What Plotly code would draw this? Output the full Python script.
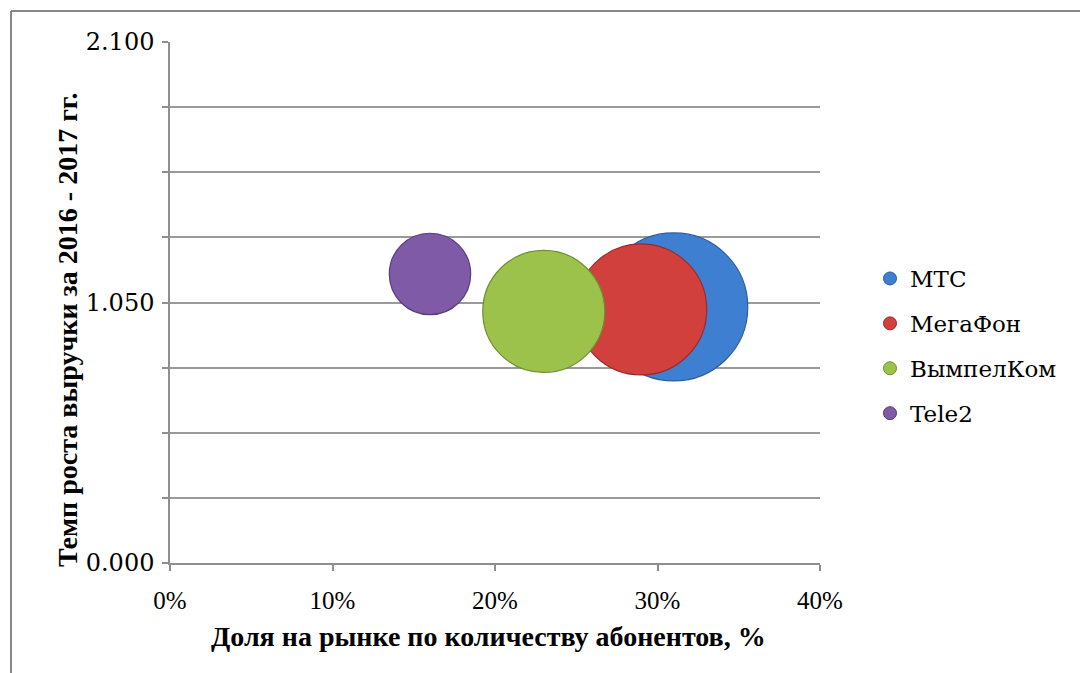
import plotly.graph_objects as go

# ---- data ----
companies = ["МТС", "МегаФон", "ВымпелКом", "Tele2"]
market_share = [0.31, 0.29, 0.23, 0.16]          # x: доля на рынке
revenue_growth = [1.032, 1.022, 1.014, 1.165]    # y: темп роста выручки
bubble_size = [443, 347, 301, 134]               # размер пузырька
colors = ["#3F7FD2", "#D2403D", "#9CC24B", "#7E5AA7"]
edge_colors = ["#2A5C9E", "#9B2B29", "#6F8E2F", "#573C7A"]

x_tick_vals = [0, 0.1, 0.2, 0.3, 0.4]
x_tick_text = ["0%", "10%", "20%", "30%", "40%"]
y_tick_vals = [0, 0.2625, 0.525, 0.7875, 1.05, 1.3125, 1.575, 1.8375, 2.1]
y_tick_text = ["0.000", "", "", "", "1.050", "", "", "", "2.100"]

x_title = "Доля на рынке по количеству абонентов, %"
y_title = "Темп роста выручки за 2016 - 2017 гг."

max_diam = 148
sizeref = 2.0 * max(bubble_size) / (max_diam ** 2)

SERIF_WIDE = "DejaVu Serif"
SERIF = "Liberation Serif"

fig = go.Figure()
for name, xv, yv, sv, c, ec in zip(companies, market_share, revenue_growth,
                                    bubble_size, colors, edge_colors):
    fig.add_trace(go.Scatter(
        x=[xv], y=[yv], mode="markers", name=name, showlegend=False,
        marker=dict(size=[sv], sizemode="area", sizeref=sizeref, color=c,
                    opacity=1, line=dict(color=ec, width=1.2)),
        hoverinfo="name+x+y"))
# legend-only entries
for name, c, ec in zip(companies, colors, edge_colors):
    fig.add_trace(go.Scatter(
        x=[None], y=[None], mode="markers", name=name, legendgroup=name,
        marker=dict(size=13, color=c, line=dict(color=ec, width=1))))

grid_col = "#8E8E8E"
fig.update_layout(
    width=1080, height=673,
    font=dict(family=SERIF, color="black"),
    margin=dict(l=170, r=260, t=42, b=110, autoexpand=False),
    paper_bgcolor="white", plot_bgcolor="white",
    showlegend=True,
    legend=dict(x=(870 - 170) / 650, y=(563 - 346) / 521, xanchor="left",
                yanchor="middle",
                font=dict(family=SERIF_WIDE, size=23, color="black"),
                traceorder="grouped", tracegroupgap=12, itemsizing="trace",
                bgcolor="rgba(0,0,0,0)"),
    xaxis=dict(range=[0, 0.4], tickvals=x_tick_vals, ticktext=x_tick_text,
               showgrid=False, zeroline=False, showline=True,
               linecolor=grid_col, linewidth=1.5, ticks="outside",
               ticklen=6, tickcolor=grid_col, tickwidth=1.5,
               ticklabelstandoff=8,
               tickfont=dict(size=25, color="black")),
    yaxis=dict(range=[0, 2.1], tickvals=y_tick_vals, ticktext=y_tick_text,
               showgrid=True, gridcolor="#9A9A9A", gridwidth=1.5,
               zeroline=False, showline=True, linecolor=grid_col,
               linewidth=1.5, ticks="outside", ticklen=6, tickcolor=grid_col,
               tickwidth=1.5, ticklabelstandoff=3,
               tickfont=dict(family=SERIF_WIDE, size=24, color="black")),
    annotations=[
        dict(text="<b>" + x_title + "</b>", xref="paper", yref="paper",
             x=(488 - 170) / 650, y=(563 - 636) / 521, xanchor="center",
             yanchor="middle", showarrow=False,
             font=dict(family=SERIF, size=28, color="black")),
        dict(text="<b>" + y_title + "</b>", xref="paper", yref="paper",
             x=(67 - 170) / 650, y=(563 - 330) / 521, xanchor="center",
             yanchor="middle", textangle=-90, showarrow=False,
             font=dict(family=SERIF, size=28, color="black")),
    ],
    shapes=[
        dict(type="line", xref="paper", yref="paper",
             x0=(11 - 170) / 650, x1=1.5, y0=(563 - 11) / 521, y1=(563 - 11) / 521,
             line=dict(color="#888888", width=2)),
        dict(type="line", xref="paper", yref="paper",
             x0=(11 - 170) / 650, x1=(11 - 170) / 650,
             y0=(563 - 11) / 521, y1=-0.3,
             line=dict(color="#888888", width=2)),
    ],
)

fig.write_html("out.html")
